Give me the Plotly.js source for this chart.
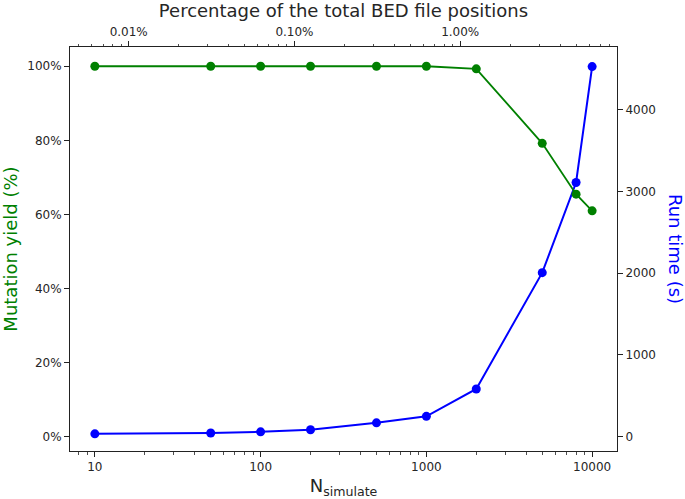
<!DOCTYPE html>
<html>
<head>
<meta charset="utf-8">
<script src="https://cdn.plot.ly/plotly-3.0.1.min.js"></script>
<style>
html,body{margin:0;padding:0;background:#fff;}
#chart{width:685px;height:499px;}
</style>
</head>
<body>
<div id="chart"></div>
<script>
// Data
const nSimulate = [10, 50, 100, 200, 500, 1000, 2000, 5000, 8000, 10000];
const mutationYield = [100, 100, 100, 100, 100, 100, 99.3, 79.2, 65.5, 61.0];
const runTime = [30, 40, 55, 80, 165, 245, 580, 2005, 3110, 4530];
const totalPositions = 160000;
const percentOfTotal = nSimulate.map(n => n / totalPositions * 100);

const bottomTicks = [10, 100, 1000, 10000];
const bottomTickText = ['10', '100', '1000', '10000'];
const topTicks = [0.01, 0.1, 1];
const topTickText = ['0.01%', '0.10%', '1.00%'];
const yieldTicks = [0, 20, 40, 60, 80, 100];
const runTicks = [0, 1000, 2000, 3000, 4000];

// log minor tick positions (2..9 per decade)
function logMinor(fromExp, toExp) {
  const out = [];
  for (let e = fromExp; e <= toExp; e++) {
    for (let d = 2; d <= 9; d++) out.push(d * Math.pow(10, e));
  }
  return out;
}

const font = 'DejaVu Sans, sans-serif';
const txt = '#262626';
const lineCol = '#222';
const tickSize = 12;

const traces = [
  {
    x: nSimulate, y: runTime, xaxis: 'x', yaxis: 'y',
    mode: 'lines+markers', type: 'scatter',
    line: {color: '#0000ff', width: 2},
    marker: {color: '#0000ff', size: 9},
    hoverinfo: 'x+y', showlegend: false
  },
  {
    x: nSimulate, y: mutationYield, xaxis: 'x', yaxis: 'y2',
    mode: 'lines+markers', type: 'scatter',
    line: {color: '#008000', width: 1.8},
    marker: {color: '#008000', size: 9},
    hoverinfo: 'x+y', showlegend: false
  },
  {
    x: percentOfTotal, y: mutationYield, xaxis: 'x2', yaxis: 'y2',
    mode: 'markers', type: 'scatter',
    marker: {opacity: 0}, hoverinfo: 'skip', showlegend: false
  }
];

const lo = 0.85, hi = 4.15;
const shift = Math.log10(totalPositions / 100);

const layout = {
  width: 685, height: 499,
  margin: {l: 70, r: 68, t: 47, b: 48, pad: 0},
  paper_bgcolor: '#fff', plot_bgcolor: '#fff',
  font: {family: font, size: tickSize, color: txt},
  xaxis: {
    type: 'log', range: [lo, hi],
    tickvals: bottomTicks, ticktext: bottomTickText,
    ticks: 'outside', ticklen: 5, tickwidth: 1, tickcolor: lineCol,
    minor: {tickvals: logMinor(0, 4), ticks: 'outside', ticklen: 2.5, tickwidth: 0.8, tickcolor: lineCol, showgrid: false},
    showline: true, linecolor: lineCol, linewidth: 1,
    showgrid: false, zeroline: false,
    tickfont: {family: font, size: tickSize, color: txt},
    title: {text: 'N<sub>simulate</sub>', font: {family: font, size: 18, color: txt}, standoff: 7},
    anchor: 'y'
  },
  xaxis2: {
    type: 'log', range: [lo - shift, hi - shift],
    overlaying: 'x', side: 'top', anchor: 'y',
    tickvals: topTicks, ticktext: topTickText,
    ticks: 'outside', ticklen: 5, tickwidth: 1, tickcolor: lineCol,
    minor: {tickvals: logMinor(-4, 0), ticks: 'outside', ticklen: 2.5, tickwidth: 0.8, tickcolor: lineCol, showgrid: false},
    showline: true, linecolor: lineCol, linewidth: 1,
    showgrid: false, zeroline: false,
    tickfont: {family: font, size: tickSize, color: txt},
    title: {text: 'Percentage of the total BED file positions', font: {family: font, size: 18, color: txt}, standoff: 5}
  },
  yaxis: {
    range: [-180, 4770], side: 'right', anchor: 'x',
    tickvals: runTicks, ticktext: runTicks.map(String),
    ticks: 'outside', ticklen: 5, tickwidth: 1, tickcolor: lineCol,
    showline: true, linecolor: lineCol, linewidth: 1,
    showgrid: false, zeroline: false,
    tickfont: {family: font, size: tickSize, color: txt}
  },
  yaxis2: {
    range: [-3.8, 105.2], side: 'left', overlaying: 'y', anchor: 'x',
    tickvals: yieldTicks, ticktext: yieldTicks.map(v => v + '%'),
    ticks: 'outside', ticklen: 5, tickwidth: 1, tickcolor: lineCol,
    showline: true, linecolor: lineCol, linewidth: 1,
    showgrid: false, zeroline: false,
    tickfont: {family: font, size: tickSize, color: txt},
    title: {text: 'Mutation yield (%)', font: {family: font, size: 18, color: '#008000'}, standoff: 6}
  },
  annotations: [
    {
      text: 'Run time (s)', xref: 'paper', yref: 'paper',
      x: 1, xshift: 59, y: 0.5, textangle: 90,
      showarrow: false, xanchor: 'center', yanchor: 'middle',
      font: {family: font, size: 18, color: '#0000ff'}
    }
  ]
};

Plotly.newPlot('chart', traces, layout, {displayModeBar: false, staticPlot: true});
</script>
</body>
</html>
